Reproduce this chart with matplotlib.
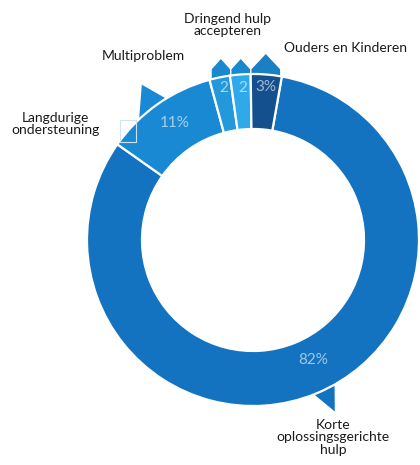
import matplotlib
matplotlib.use("Agg")
import matplotlib.pyplot as plt
from matplotlib.patches import Polygon, Rectangle
import numpy as np

# data
labels = ["Korte\noplossingsgerichte\nhulp", "Langdurige\nondersteuning", "Multiproblem",
          "Dringend hulp\naccepteren", "Ouders en Kinderen"]
values = [82, 11, 2, 2, 3]
pct_text = ["82%", "11%", "2", "2", "3%"]
colors = ["#1373c0", "#1a89d4", "#2399dc", "#2eaaea", "#15508e"]

plt.rcParams["font.family"] = ["Lato", "DejaVu Sans"]

W, H = 420, 465
fig = plt.figure(figsize=(W / 100, H / 100), dpi=100)
ax = fig.add_axes([0, 0, 1, 1])

cx, cy = 253, H - 240
R = 166
ring = 55

wedges, _ = ax.pie(values, colors=colors, startangle=80, counterclock=False,
                   center=(cx, cy), radius=R,
                   wedgeprops=dict(width=ring, edgecolor="white", linewidth=1.6))
for w in wedges:
    w.set_zorder(3)


def pt(ang, r):
    a = np.deg2rad(ang)
    return (cx + r * np.cos(a), cy + r * np.sin(a))


# pointers on the top three small slices (house shaped arrows)
arrow_cols = ["#1a88cc", "#1a88cc", "#1b7fc4"]
tips = [16, 16, 21]
for w, col, tip in zip(wedges[2:], arrow_cols, tips):
    t1, t2 = w.theta1, w.theta2
    a, b = pt(t1, R - 6), pt(t2, R - 6)
    sh = 5
    pts = [a, (a[0], cy + R + sh), ((a[0] + b[0]) / 2, cy + R + tip),
           (b[0], cy + R + sh), b]
    ax.add_patch(Polygon(pts, closed=True, facecolor=col, edgecolor="white",
                         linewidth=1.0, zorder=2))

# pointer of the 11% slice
ax.add_patch(Polygon([pt(134.5, R - 3), pt(125.6, R + 25), pt(121, R - 3)], closed=True,
                     facecolor=colors[1], edgecolor="none", zorder=2))
# pointer of the 82% slice
ax.add_patch(Polygon([pt(-69, R - 3), pt(-64.5, R + 24), pt(-60, R - 3)], closed=True,
                     facecolor=colors[0], edgecolor="none", zorder=2))
# faint box at the left end of the 11% slice
ax.add_patch(Rectangle((120, H - 142), 16, 22, facecolor="none",
                       edgecolor="#cfe3f3", linewidth=0.8, zorder=4))

# values on the ring
pct_pos = [(313, 360), (175, 123), (224, 88), (243, 88), (266, 87)]
for txt, (px, py) in zip(pct_text, pct_pos):
    ax.text(px, H - py, txt, color="white", alpha=0.6, fontsize=11,
            ha="center", va="center", zorder=5)

# category labels
lab_pos = [(333, 437), (55, 124), (143, 56), (228, 25), (346, 48)]
for txt, (px, py) in zip(labels, lab_pos):
    ax.text(px, H - py, txt, color="#1a1a1a", fontsize=10, ha="center",
            va="center", linespacing=1.05, zorder=5)

ax.set_xlim(0, W)
ax.set_ylim(0, H)
ax.set_aspect("equal")
ax.axis("off")

fig.savefig("out.png", dpi=100)
